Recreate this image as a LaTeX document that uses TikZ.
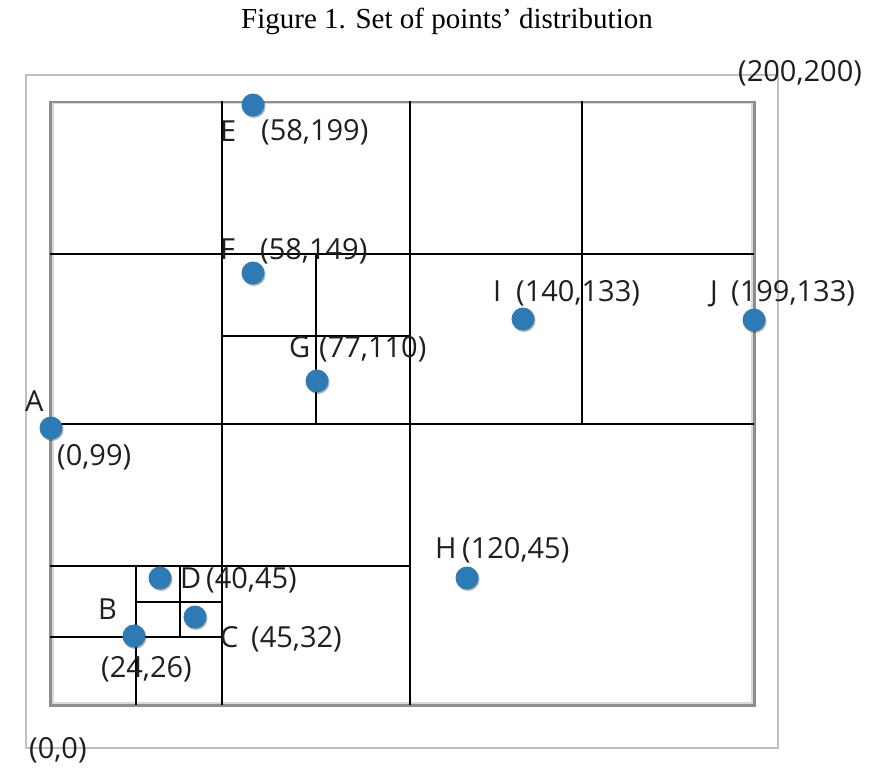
\documentclass[tikz,border=0pt]{standalone}
\usepackage{xcolor}
\usepackage{fontspec}
\setmainfont{Liberation Serif}
\newfontfamily\lblfont{Open Sans}
\usetikzlibrary{shadows}
\definecolor{dotblue}{RGB}{46,122,181}
\definecolor{framegray}{RGB}{192,192,192}
\definecolor{boxgray}{RGB}{140,142,146}

\begin{document}
\begin{tikzpicture}[x=1pt,y=-1pt,
    grid/.style={line width=2pt,black},
    dot/.style={circle,fill=dotblue,minimum size=23pt,inner sep=0pt,
        drop shadow={shadow xshift=1pt,shadow yshift=-1.5pt,opacity=0.3,fill=black}},
    lbl/.style={anchor=base west,inner sep=0pt,text=black!88,
        font=\lblfont\fontsize{29}{34}\selectfont}]
\useasboundingbox (0,0) rectangle (871,770);

% title
\node[anchor=base,inner sep=0pt,font=\fontsize{29}{34}\selectfont] (title) at (447,28.5)
    {Figure 1. Set of points’ distribution};

% frame and plane
\draw[framegray,line width=2pt] (26,75.5) rectangle (777.5,747.5);
\draw[black!15,line width=2pt] (52.5,103.5) rectangle (751.7,702.7);
\draw[boxgray,line width=2.6pt] (50.5,102) rectangle (754.5,705.3);

% partition
\draw[grid] (222,101) -- (222,705);
\draw[grid] (410,101) -- (410,705);
\draw[grid] (582,101) -- (582,424);
\draw[grid] (50,254) -- (754,254);
\draw[grid] (50,424) -- (754,424);
\draw[grid] (316,254) -- (316,424);
\draw[grid] (222,336) -- (410,336);
\draw[grid] (50,566) -- (410,566);
\draw[grid] (136,566) -- (136,705);
\draw[grid] (50,637) -- (222,637);
\draw[grid] (180,566) -- (180,637);
\draw[grid] (136,602) -- (222,602);

% points
\foreach \n/\px/\py in {A/51/428, B/134/636, C/195/617, D/160/578, E/253/105,
    F/253/273, G/317/381, H/467/578, I/523/319, J/754/320}
    \node[dot] (pt\n) at (\px,\py) {};

% names
\node[lbl] (nameA) at (25,411) {A};
\node[lbl] (nameB) at (98,619) {B};
\node[lbl] (nameC) at (220,647) {C};
\node[lbl] (nameD) at (180,588) {D};
\node[lbl] (nameE) at (220,142) {E};
\node[lbl] (nameF) at (220,260) {F};
\node[lbl] (nameG) at (289,357) {G};
\node[lbl] (nameH) at (435,558) {H};
\node[lbl] (nameI) at (493,302) {I};
\node[lbl] (nameJ) at (710,302) {J};

% coordinates
\node[lbl] (xyA) at (57,465) {(0,99)};
\node[lbl] (xyB) at (101,677) {(24,26)};
\node[lbl] (xyC) at (251,647) {(45,32)};
\node[lbl] (xyD) at (206,588) {(40,45)};
\node[lbl] (xyE) at (261,141) {(58,199)};
\node[lbl] (xyF) at (260,260) {(58,149)};
\node[lbl] (xyG) at (319,357) {(77,110)};
\node[lbl] (xyH) at (462,558) {(120,45)};
\node[lbl] (xyI) at (516,302) {(140,133)};
\node[lbl] (xyJ) at (731,302) {(199,133)};
\node[lbl] (origin) at (29,758) {(0,0)};
\node[lbl] (corner) at (738,82) {(200,200)};
\end{tikzpicture}
\end{document}
